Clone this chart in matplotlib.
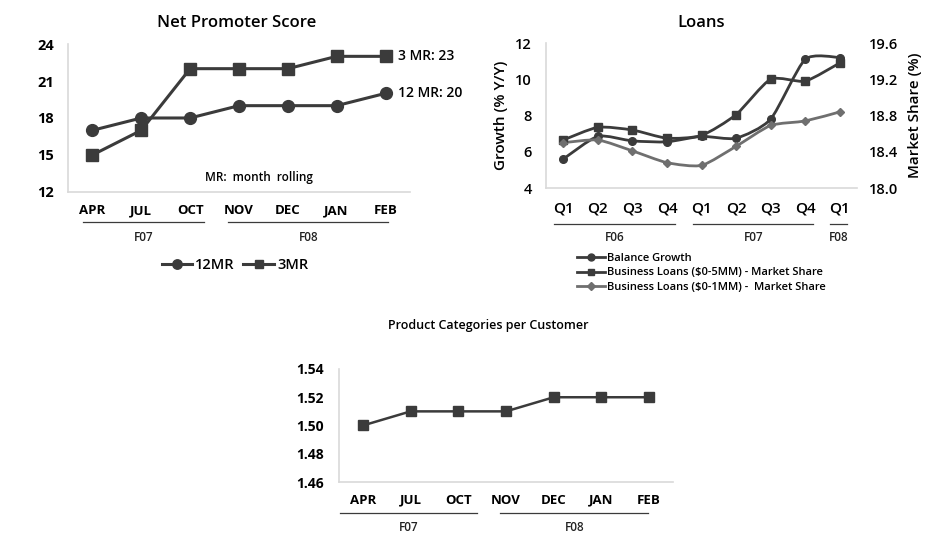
import matplotlib
matplotlib.use("Agg")
import matplotlib.pyplot as plt
from matplotlib.path import Path
from matplotlib.patches import PathPatch
from matplotlib.lines import Line2D
from matplotlib.transforms import blended_transform_factory

# ---- data ----
months = ["APR", "JUL", "OCT", "NOV", "DEC", "JAN", "FEB"]
month_groups = ["F07", "F08"]
nps_12mr = [17, 18, 18, 19, 19, 19, 20]
nps_3mr = [15, 17, 22, 22, 22, 23, 23]

quarters = ["Q1", "Q2", "Q3", "Q4", "Q1", "Q2", "Q3", "Q4", "Q1"]
quarter_groups = ["F06", "F07", "F08"]
balance_growth = [5.6, 6.85, 6.6, 6.55, 6.85, 6.75, 7.8, 11.1, 11.2]
share_0_5mm = [18.53, 18.67, 18.64, 18.55, 18.58, 18.81, 19.20, 19.18, 19.38]
share_0_1mm = [18.50, 18.53, 18.41, 18.28, 18.25, 18.46, 18.69, 18.74, 18.84]

prod_per_cust = [1.50, 1.51, 1.51, 1.51, 1.52, 1.52, 1.52]

DARK = "#3b3b3b"
GREY = "#6f6f6f"
SPINE = "#d9d9d9"
plt.rcParams["font.family"] = ["Open Sans", "DejaVu Sans"]


def smooth_path(xs, ys, k=0.11):
    # smoothed line drawn as cubic bezier segments
    n = len(xs)
    verts = [(xs[0], ys[0])]
    codes = [Path.MOVETO]
    for i in range(n - 1):
        a, b = max(i - 1, 0), min(i + 2, n - 1)
        c1 = (xs[i] + (xs[i + 1] - xs[a]) * k, ys[i] + (ys[i + 1] - ys[a]) * k)
        c2 = (xs[i + 1] - (xs[b] - xs[i]) * k, ys[i + 1] - (ys[b] - ys[i]) * k)
        verts += [c1, c2, (xs[i + 1], ys[i + 1])]
        codes += [Path.CURVE4] * 3
    return Path(verts, codes)


def style_axes(ax):
    for s in ["top", "right"]:
        ax.spines[s].set_visible(False)
    for s in ["left", "bottom"]:
        ax.spines[s].set_color(SPINE)
        ax.spines[s].set_linewidth(1.2)


def group_marks(ax, spans, labels, y_line, y_text, fs):
    tr = blended_transform_factory(ax.transData, ax.transAxes)
    for (x0, x1), lab in zip(spans, labels):
        ax.plot([x0, x1], [y_line, y_line], color=DARK, lw=0.9,
                transform=tr, clip_on=False)
        ax.text((x0 + x1) / 2, y_text, lab, transform=tr, ha="center",
                va="center", fontsize=fs, fontweight="semibold", color="#222222")


fig = plt.figure(figsize=(9.25, 5.42), dpi=100)

# ---- Net Promoter Score ----
ax1 = fig.add_axes([0.0735, 0.6458, 0.3697, 0.273])
style_axes(ax1)
x = range(len(months))
ax1.plot(x, nps_12mr, color=DARK, lw=2.2, marker="o", ms=8.5, label="12MR")
ax1.plot(x, nps_3mr, color=DARK, lw=2.2, marker="s", ms=8, label="3MR")
ax1.set_xlim(-0.5, len(months) - 0.5)
ax1.set_ylim(12, 24)
ax1.set_yticks([12, 15, 18, 21, 24])
ax1.set_xticks(list(x))
ax1.set_xticklabels(months)
ax1.tick_params(axis="x", length=0, pad=9, labelsize=9.5)
ax1.tick_params(axis="y", length=0, pad=10, labelsize=10.5)
for t in ax1.get_xticklabels() + ax1.get_yticklabels():
    t.set_fontweight("bold")
ax1.text(0.494, 1.142, "Net Promoter Score", transform=ax1.transAxes,
         ha="center", va="center", fontsize=12, fontweight="semibold")
ax1.annotate(f"3 MR: {nps_3mr[-1]}", (len(months) - 1, nps_3mr[-1]),
             xytext=(9, 0), textcoords="offset points", va="center",
             fontsize=10, fontweight="semibold")
ax1.annotate(f"12 MR: {nps_12mr[-1]}", (len(months) - 1, nps_12mr[-1]),
             xytext=(9, 0), textcoords="offset points", va="center",
             fontsize=10, fontweight="semibold")
ax1.text(0.558, 0.095, "MR:  month  rolling", transform=ax1.transAxes,
         ha="center", va="center", fontsize=8.5, fontweight="semibold")
group_marks(ax1, [(-0.19, 2.29), (2.78, 6.06)], month_groups, -0.203, -0.311, 8.5)
ax1.legend(loc="center", bbox_to_anchor=(0.488, -0.493), ncol=2, frameon=False,
           handlelength=2.1, handletextpad=0.2, columnspacing=0.6, markerscale=0.8,
           prop={"size": 10.5, "weight": "semibold"})

# ---- Loans ----
ax2 = fig.add_axes([0.5903, 0.6531, 0.3362, 0.2675])
style_axes(ax2)
ax3 = ax2.twinx()
for s in ax3.spines.values():
    s.set_visible(False)
q = list(range(len(quarters)))
ax2.add_patch(PathPatch(smooth_path(q, balance_growth), fc="none", ec=DARK, lw=2))
ax2.plot(q, balance_growth, ls="none", marker="o", ms=5.5, color=DARK)
ax3.add_patch(PathPatch(smooth_path(q, share_0_5mm), fc="none", ec=DARK, lw=2))
ax3.plot(q, share_0_5mm, ls="none", marker="s", ms=5.5, color=DARK)
ax3.add_patch(PathPatch(smooth_path(q, share_0_1mm), fc="none", ec=GREY, lw=2))
ax3.plot(q, share_0_1mm, ls="none", marker="D", ms=4.5, color=GREY)
ax2.set_xlim(-0.5, len(quarters) - 0.5)
ax2.set_ylim(4, 12)
ax2.set_yticks([4, 6, 8, 10, 12])
ax3.set_ylim(18.0, 19.6)
ax3.set_yticks([18.0, 18.4, 18.8, 19.2, 19.6])
ax3.set_yticklabels([f"{v:.1f}" for v in [18.0, 18.4, 18.8, 19.2, 19.6]])
ax2.set_xticks(q)
ax2.set_xticklabels(quarters)
ax2.tick_params(axis="x", length=0, pad=10, labelsize=11)
ax2.tick_params(axis="y", length=0, pad=10, labelsize=10.5)
ax3.tick_params(axis="y", length=0, pad=8.5, labelsize=10.5)
for t in ax2.get_xticklabels() + ax2.get_yticklabels() + ax3.get_yticklabels():
    t.set_fontweight("semibold")
ax2.set_ylabel("Growth (% Y/Y)", fontsize=11, fontweight="semibold", labelpad=5)
ax3.set_ylabel("Market Share (%)", fontsize=11, fontweight="semibold", labelpad=7)
ax2.text(0.498, 1.138, "Loans", transform=ax2.transAxes, ha="center",
         va="center", fontsize=12, fontweight="semibold")
group_marks(ax2, [(-0.27, 3.24), (3.76, 7.24), (7.73, 8.22)], quarter_groups,
            -0.248, -0.338, 8.5)
handles = [
    Line2D([], [], color=DARK, lw=2, marker="o", ms=5),
    Line2D([], [], color=DARK, lw=2, marker="s", ms=5),
    Line2D([], [], color=GREY, lw=2, marker="D", ms=4),
]
labels = ["Balance Growth", "Business Loans ($0-5MM) - Market Share",
          "Business Loans ($0-1MM) -  Market Share"]
ax2.legend(handles, labels, loc="center left", bbox_to_anchor=(0.1, -0.586),
           frameon=False, borderpad=0, borderaxespad=0, handlelength=2.5,
           handletextpad=0.2, labelspacing=0.3,
           prop={"size": 8, "weight": "semibold"})

# ---- Product Categories per Customer ----
ax4 = fig.add_axes([0.3665, 0.1107, 0.3611, 0.2085])
style_axes(ax4)
ax4.plot(range(len(months)), prod_per_cust, color=DARK, lw=1.8, marker="s", ms=7.5)
ax4.set_xlim(-0.5, len(months) - 0.5)
ax4.set_ylim(1.46, 1.54)
ax4.set_yticks([1.46, 1.48, 1.50, 1.52, 1.54])
ax4.set_yticklabels([f"{v:.2f}" for v in [1.46, 1.48, 1.50, 1.52, 1.54]])
ax4.set_xticks(range(len(months)))
ax4.set_xticklabels(months)
ax4.tick_params(axis="x", length=0, pad=8.5, labelsize=9.5)
ax4.tick_params(axis="y", length=0, pad=11, labelsize=10)
for t in ax4.get_xticklabels() + ax4.get_yticklabels():
    t.set_fontweight("bold")
ax4.text(0.446, 1.389, "Product Categories per Customer", transform=ax4.transAxes,
         ha="center", va="center", fontsize=9, fontweight="semibold")
group_marks(ax4, [(-0.48, 2.39), (2.88, 5.98)], month_groups, -0.274, -0.407, 8.5)

fig.savefig("out.png", dpi=100)
